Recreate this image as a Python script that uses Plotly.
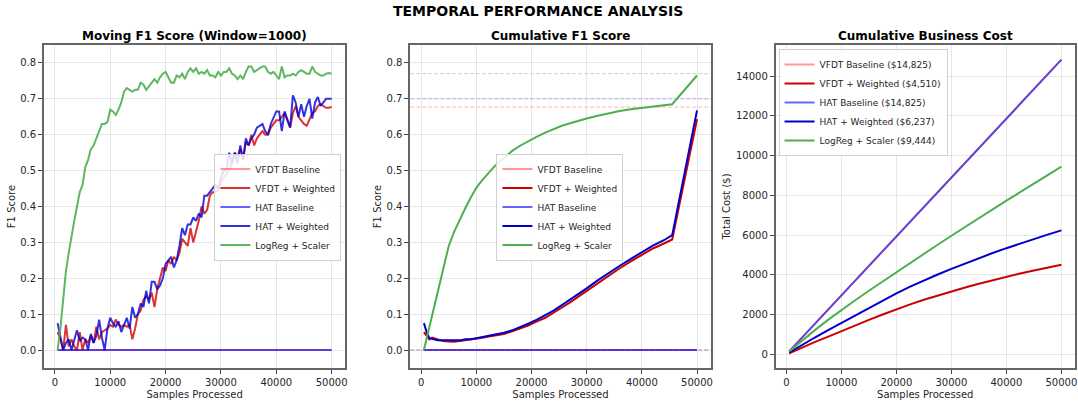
import plotly.graph_objects as go

# ---------------- data ----------------
moving_x = [500, 1000, 1500, 2000, 2500, 3000, 3500, 4000, 4500, 5000,
            5500, 6000, 6500, 7000, 7500, 8000, 8500, 9000, 9500, 10000,
            10500, 11000, 11500, 12000, 12500, 13000, 13500, 14000, 14500, 15000,
            15500, 16000, 16500, 17000, 17500, 18000, 18500, 19000, 19500, 20000,
            20500, 21000, 21500, 22000, 22500, 23000, 23500, 24000, 24500, 25000,
            25500, 26000, 26500, 27000, 27500, 28000, 28500, 29000, 29500, 30000,
            30500, 31000, 31500, 32000, 32500, 33000, 33500, 34000, 34500, 35000,
            35500, 36000, 36500, 37000, 37500, 38000, 38500, 39000, 39500, 40000,
            40500, 41000, 41500, 42000, 42500, 43000, 43500, 44000, 44500, 45000,
            45500, 46000, 46500, 47000, 47500, 48000, 48500, 49000, 49500, 50000]

baseline_x = [500, 50000]
moving_vfdt_base = [0.0, 0.0]
moving_hat_base = [0.0, 0.0]

moving_vfdt_w = [0.05, 0.03, 0.0, 0.07, 0.01, 0.03, 0.01, 0.0, 0.05, 0.0,
                 0.03, 0.02, 0.04, 0.02, 0.065, 0.03, 0.05, 0.055, 0.06, 0.07,
                 0.065, 0.085, 0.07, 0.065, 0.07, 0.065, 0.07, 0.03, 0.06, 0.1,
                 0.11, 0.14, 0.15, 0.14, 0.16, 0.12, 0.17, 0.2, 0.23, 0.22,
                 0.25, 0.24, 0.26, 0.25, 0.27, 0.31, 0.3, 0.29, 0.34, 0.3,
                 0.33, 0.36, 0.4, 0.38, 0.39, 0.43, 0.44, 0.44, 0.445, 0.47,
                 0.48, 0.49, 0.5, 0.52, 0.55, 0.54, 0.56, 0.53, 0.58, 0.57,
                 0.6, 0.57, 0.59, 0.6, 0.61, 0.6, 0.6, 0.62, 0.63, 0.64,
                 0.64, 0.65, 0.66, 0.64, 0.62, 0.66, 0.68, 0.65, 0.64, 0.63,
                 0.625, 0.645, 0.66, 0.665, 0.68, 0.685, 0.68, 0.675, 0.675, 0.677]

moving_hat_w = [0.075, 0.04, 0.0, 0.02, 0.03, 0.0, 0.03, 0.055, 0.025, 0.035,
                0.03, 0.0, 0.045, 0.02, 0.04, 0.085, 0.035, 0.0, 0.06, 0.09,
                0.075, 0.065, 0.08, 0.05, 0.07, 0.09, 0.06, 0.12, 0.09, 0.1,
                0.13, 0.12, 0.165, 0.13, 0.19, 0.19, 0.17, 0.18, 0.2, 0.24,
                0.25, 0.26, 0.23, 0.25, 0.29, 0.34, 0.32, 0.35, 0.35, 0.37,
                0.36, 0.38, 0.37, 0.43, 0.43, 0.44, 0.45, 0.46, 0.45, 0.48,
                0.5, 0.5, 0.55, 0.52, 0.55, 0.52, 0.57, 0.53, 0.59, 0.57,
                0.59, 0.6, 0.62, 0.625, 0.63, 0.61, 0.6, 0.63, 0.65, 0.665,
                0.665, 0.61, 0.665, 0.64, 0.62, 0.71, 0.69, 0.65, 0.685, 0.65,
                0.68, 0.7, 0.645, 0.69, 0.705, 0.68, 0.69, 0.7, 0.7, 0.7]

moving_logreg = [0.0, 0.06, 0.14, 0.22, 0.27, 0.32, 0.36, 0.40, 0.44, 0.46,
                 0.51, 0.53, 0.56, 0.57, 0.59, 0.61, 0.63, 0.63, 0.635, 0.67,
                 0.665, 0.655, 0.67, 0.69, 0.72, 0.73, 0.725, 0.72, 0.725, 0.725,
                 0.745, 0.74, 0.725, 0.735, 0.745, 0.755, 0.745, 0.76, 0.77, 0.775,
                 0.76, 0.745, 0.745, 0.765, 0.76, 0.77, 0.755, 0.775, 0.785, 0.775,
                 0.785, 0.77, 0.775, 0.77, 0.78, 0.765, 0.765, 0.76, 0.775, 0.765,
                 0.775, 0.775, 0.785, 0.77, 0.765, 0.755, 0.765, 0.755, 0.775, 0.79,
                 0.79, 0.775, 0.78, 0.785, 0.79, 0.79, 0.775, 0.77, 0.775, 0.765,
                 0.755, 0.79, 0.76, 0.765, 0.765, 0.77, 0.765, 0.775, 0.78, 0.775,
                 0.77, 0.77, 0.79, 0.775, 0.77, 0.765, 0.765, 0.77, 0.772, 0.77]

cum_x = [500, 1000, 1500, 2000, 2500, 3000, 3500, 4000, 5000, 6000, 7000, 8000, 9000, 10000,
         11000, 12000, 13000, 14000, 15000, 16500, 18000, 19500, 21000, 22500, 24000, 25500,
         27000, 28500, 30000, 32000, 34000, 36000, 38000, 40000, 42000, 44000, 45500, 50000]
cum_vfdt_base = [0.0, 0.0]
cum_hat_base = [0.0, 0.0]
cum_vfdt_w = [0.05, 0.04, 0.03, 0.035, 0.032, 0.03, 0.028, 0.025, 0.024, 0.023, 0.025, 0.027,
              0.028, 0.031, 0.034, 0.037, 0.039, 0.041, 0.045, 0.052, 0.06, 0.069, 0.08, 0.09,
              0.104, 0.118, 0.133, 0.149, 0.165, 0.187, 0.208, 0.228, 0.247, 0.265, 0.283,
              0.297, 0.308, 0.643]
cum_hat_w = [0.075, 0.05, 0.033, 0.03, 0.029, 0.027, 0.027, 0.028, 0.028, 0.026, 0.027, 0.03,
             0.03, 0.033, 0.036, 0.038, 0.041, 0.044, 0.048, 0.055, 0.064, 0.074, 0.085, 0.097,
             0.11, 0.125, 0.14, 0.156, 0.172, 0.194, 0.215, 0.235, 0.254, 0.273, 0.291,
             0.306, 0.32, 0.668]
cum_logreg = [0.0, 0.033, 0.066, 0.099, 0.13, 0.163, 0.195, 0.225, 0.29, 0.33, 0.365, 0.395,
              0.425, 0.452, 0.472, 0.49, 0.507, 0.522, 0.536, 0.555, 0.57, 0.583, 0.595, 0.606,
              0.616, 0.625, 0.632, 0.639, 0.645, 0.653, 0.66, 0.666, 0.671, 0.675, 0.679,
              0.682, 0.685, 0.765]

cost_x = [500, 2500, 5000, 7500, 10000, 12500, 15000, 17500, 20000, 22500, 25000,
          27500, 30000, 32500, 35000, 37500, 40000, 42500, 45000, 47500, 50000]
cost_vfdt_base = [148, 741, 1483, 2224, 2965, 3706, 4448, 5189, 5930, 6671, 7413,
                  8154, 8895, 9636, 10378, 11119, 11860, 12601, 13343, 14084, 14825]
cost_vfdt_w = [50, 300, 600, 880, 1150, 1445, 1730, 2005, 2270, 2515, 2745,
               2960, 3160, 3360, 3550, 3735, 3910, 4070, 4220, 4370, 4510]
cost_hat_base = [148, 741, 1483, 2224, 2965, 3706, 4448, 5189, 5930, 6671, 7413,
                 8154, 8895, 9636, 10378, 11119, 11860, 12601, 13343, 14084, 14825]
cost_hat_w = [90, 420, 820, 1200, 1570, 1965, 2350, 2720, 3070, 3405, 3720,
              4015, 4300, 4575, 4840, 5095, 5340, 5575, 5800, 6020, 6237]
cost_logreg = [140, 620, 1180, 1720, 2235, 2720, 3200, 3670, 4134, 4600, 5060,
               5515, 5966, 6415, 6860, 7300, 7731, 8160, 8590, 9020, 9444]

model_names = ["VFDT Baseline", "VFDT + Weighted", "HAT Baseline", "HAT + Weighted", "LogReg + Scaler"]

# ---------------- style ----------------
colors_p1 = ["rgba(255,0,0,0.4)", "rgba(214,0,0,0.8)", "rgba(0,0,255,0.6)", "rgba(0,0,214,0.8)", "rgba(76,175,80,0.9)"]
colors_p23 = ["rgba(255,0,0,0.4)", "#cc0000", "rgba(0,0,255,0.6)", "#0000cc", "#4caf50"]
FONT = "DejaVu Sans, Verdana, sans-serif"
W, H = 1078, 404

def px_x(a, b):
    return [a / W, b / W]

def px_y(top, bottom):
    return [1 - bottom / H, 1 - top / H]

fig = go.Figure()

# panel 1
p1 = [(baseline_x, moving_vfdt_base), (moving_x, moving_vfdt_w), (baseline_x, moving_hat_base),
      (moving_x, moving_hat_w), (moving_x, moving_logreg)]
for name, (xs, ys), c in zip(model_names, p1, colors_p1):
    fig.add_trace(go.Scatter(x=xs, y=ys, mode="lines", name=name, line=dict(color=c, width=2),
                             xaxis="x", yaxis="y", legend="legend"))

# panel 2
p2 = [(baseline_x, cum_vfdt_base), (cum_x, cum_vfdt_w), (baseline_x, cum_hat_base),
      (cum_x, cum_hat_w), (cum_x, cum_logreg)]
for name, (xs, ys), c in zip(model_names, p2, colors_p23):
    fig.add_trace(go.Scatter(x=xs, y=ys, mode="lines", name=name, line=dict(color=c, width=2),
                             xaxis="x2", yaxis="y2", legend="legend2"))

# reference dashed lines in panel 2 (final moving F1 values)
finals = [moving_vfdt_base[-1], moving_vfdt_w[-1], moving_hat_base[-1], moving_hat_w[-1], moving_logreg[-1]]
dash_cols = ["rgba(255,0,0,0.3)", "rgba(255,0,0,0.3)", "rgba(0,0,255,0.3)", "rgba(0,0,255,0.3)", "rgba(0,160,0,0.3)"]
for v, c in zip(finals, dash_cols):
    fig.add_shape(type="line", xref="x2 domain", yref="y2", x0=0, x1=1, y0=v, y1=v,
                  line=dict(color=c, width=1, dash="4px,2px"), layer="below")

# panel 3
p3 = [cost_vfdt_base, cost_vfdt_w, cost_hat_base, cost_hat_w, cost_logreg]
for name, ys, c in zip(model_names, p3, colors_p23):
    fig.add_trace(go.Scatter(x=cost_x, y=ys, mode="lines", name=f"{name} (${ys[-1]:,})",
                             line=dict(color=c, width=2), xaxis="x3", yaxis="y3", legend="legend3"))

axis_common = dict(showline=True, linecolor="#666", linewidth=1.5, mirror=True,
                   showgrid=True, gridcolor="rgba(176,176,176,0.3)", gridwidth=1,
                   ticks="outside", ticklen=4, tickwidth=1, tickcolor="#444",
                   tickfont=dict(family=FONT, size=10, color="#262626"), zeroline=False)

xr = [-1975, 52475]
xt = dict(tickvals=[0, 10000, 20000, 30000, 40000, 50000], ticktext=["0", "10000", "20000", "30000", "40000", "50000"])
title_font = dict(family=FONT, size=10, color="#262626")
legend_common = dict(bgcolor="rgba(255,255,255,0.85)", bordercolor="#d0d0d0", borderwidth=1,
                     font=dict(family=FONT, size=9, color="#262626"), itemwidth=30, tracegroupgap=0)

layout = dict(
    width=W, height=H, margin=dict(l=0, r=0, t=0, b=0),
    paper_bgcolor="white", plot_bgcolor="white",
    font=dict(family=FONT, color="#262626"),
    xaxis=dict(domain=px_x(44, 346), range=xr, anchor="y", **xt, **axis_common,
               title=dict(text="Samples Processed", font=title_font, standoff=4)),
    yaxis=dict(domain=px_y(45, 368), range=[-0.05, 0.85], anchor="x", dtick=0.1, tick0=0,
               tickformat=".1f", **axis_common,
               title=dict(text="F1 Score", font=title_font, standoff=3)),
    xaxis2=dict(domain=px_x(411, 712), range=xr, anchor="y2", **xt, **axis_common,
                title=dict(text="Samples Processed", font=title_font, standoff=4)),
    yaxis2=dict(domain=px_y(45, 368), range=[-0.05, 0.85], anchor="x2", dtick=0.1, tick0=0,
                tickformat=".1f", **axis_common,
                title=dict(text="F1 Score", font=title_font, standoff=3)),
    xaxis3=dict(domain=px_x(777, 1077), range=xr, anchor="y3", **xt, **axis_common,
                title=dict(text="Samples Processed", font=title_font, standoff=4)),
    yaxis3=dict(domain=px_y(45, 368), range=[-689, 15564], anchor="x3", dtick=2000, tick0=0,
                tickformat="d", **axis_common,
                title=dict(text="Total Cost ($)", font=title_font, standoff=3)),
    legend=dict(x=342 / W, y=1 - 207 / H, xanchor="right", yanchor="middle", **legend_common),
    legend2=dict(x=561 / W, y=1 - 207 / H, xanchor="center", yanchor="middle", **legend_common),
    legend3=dict(x=780 / W, y=1 - 49 / H, xanchor="left", yanchor="top", **legend_common),
    showlegend=True,
)
fig.update_layout(**layout)

# titles
fig.add_annotation(text="<b>TEMPORAL PERFORMANCE ANALYSIS</b>", xref="paper", yref="paper",
                   x=0.5, y=1 - 11 / H, xanchor="center", yanchor="middle", showarrow=False,
                   font=dict(family=FONT, size=14, color="black"))
for (a, b), t in zip([(44, 346), (411, 712), (777, 1077)],
                     ["Moving F1 Score (Window=1000)", "Cumulative F1 Score", "Cumulative Business Cost"]):
    fig.add_annotation(text=f"<b>{t}</b>", xref="paper", yref="paper",
                       x=(a + b) / 2 / W, y=1 - 36 / H, xanchor="center", yanchor="middle",
                       showarrow=False, font=dict(family=FONT, size=12, color="black"))

fig.write_html("out.html", config={"displayModeBar": False},
               post_script="document.body.style.margin='0';document.body.style.overflow='hidden';")
